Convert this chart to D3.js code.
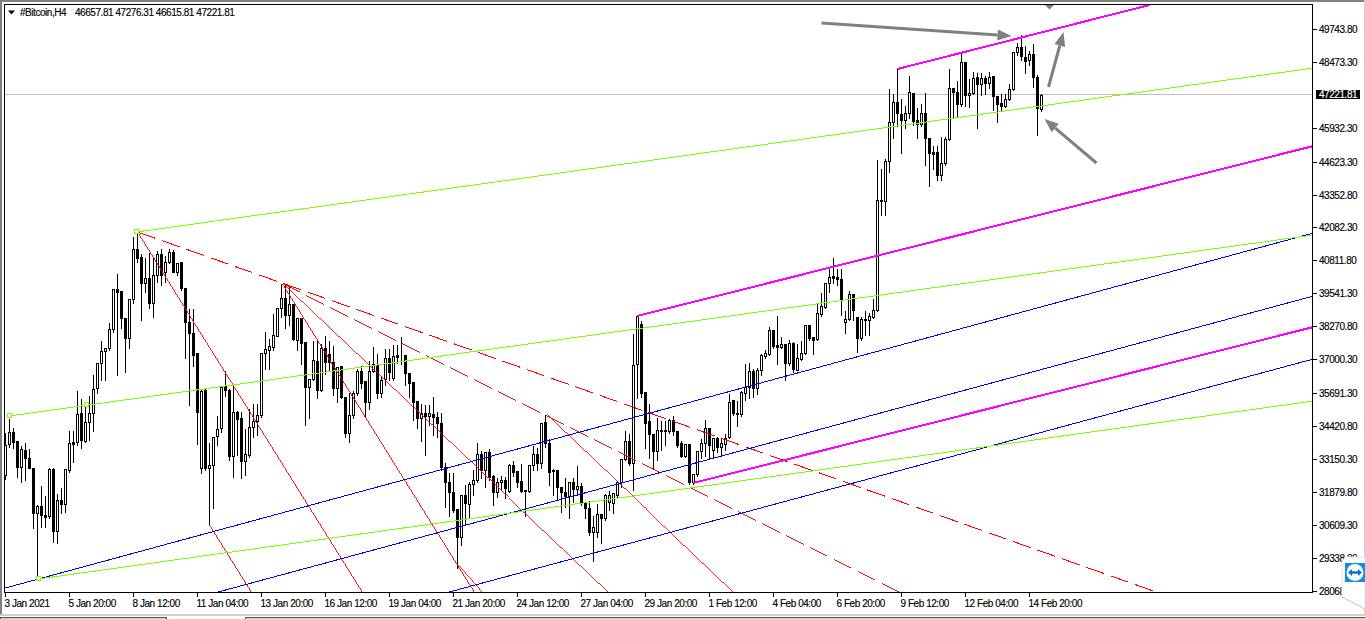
<!DOCTYPE html>
<html>
<head>
<meta charset="utf-8">
<script src="https://cdn.jsdelivr.net/npm/d3@7"></script>
<style>
  html, body { margin: 0; padding: 0; background: #fff; overflow: hidden; }
  text { font-family: "Liberation Sans", sans-serif; font-size: 10px; letter-spacing: -0.45px; fill: #000; stroke: #000; stroke-width: 0.15px; }
</style>
</head>
<body>
<svg id="chart" width="1365" height="619"></svg>
<script>
// H4 bars
const highs = [34207,34748,34400,33899,33706,33821,33590,32818,31428,32162,31776,32856,32856,31853,32084,32779,34285,34285,35829,35520,35288,35636,36446,36909,37759,37450,38453,39727,40345,39650,38646,39380,41773,41889,41117,40962,41155,40962,41233,41310,41040,41310,41271,40769,40769,39766,38994,38994,37257,35906,35906,33821,34053,34864,36022,36601,35906,36099,35057,35018,34362,35134,35327,35327,37295,38106,37836,38801,39032,39959,39959,39882,39187,38646,38646,37681,36253,37759,37759,37643,37952,37759,37566,36755,36755,35597,35751,35829,36678,36794,36215,36987,37527,37257,36408,37450,37450,37604,37604,37913,37180,36485,36137,35404,35327,35288,35288,35597,35018,34979,33049,32663,32663,31235,31776,32200,32316,32779,33821,33513,33435,33590,32586,32470,32548,32509,33011,33127,32702,33011,31969,32934,33706,33628,34593,34902,33976,32818,32741,32084,32470,32277,32470,32934,32277,31505,31583,31004,31467,31042,31853,31969,31853,32355,33165,34285,34169,38029,38685,38531,35790,35327,34130,34786,34671,34671,34748,34864,34246,33899,33783,33783,32586,33513,33976,34709,34400,33976,34053,33976,34169,35713,35443,35443,35829,36871,36909,36678,36716,37257,37411,38299,38183,38724,37913,37604,37797,37720,37643,37759,38338,38338,37874,39187,39611,39959,40538,40962,40538,40538,38917,39689,39573,38685,38685,38917,38839,39380,44745,44398,44784,47486,47293,48258,47100,46830,47988,47293,46752,46907,47331,45594,45286,45286,45633,45633,48258,47486,47795,48875,48489,47872,48142,48103,48103,47988,48142,47949,47216,47293,47293,47679,48914,49261,49570,49146,48953,49223,48026,47276.31];
const opens = [32548,33744,34207,33860,32856,33513,33204,32818,31081,31351,31004,30965,32779,30386,31583,31428,32741,33821,33821,34941,33860,34593,34941,35906,36871,37334,37450,38183,39727,39650,38608,37836,39341,41271,40962,39959,40152,39187,40268,41078,40383,40769,41155,40383,40769,39766,38453,38029,37257,32818,35829,32818,32934,34053,34362,35983,35829,33281,34979,34748,33088,33320,34400,34632,34864,37257,37373,37488,37913,38994,39380,38724,39148,37759,38608,37681,35944,36253,36948,35829,37450,37218,36909,35906,36755,35558,34169,34864,35713,36562,36176,35365,36562,36794,35713,36253,37064,36292,37180,37180,37180,36485,36137,35404,34748,34941,34825,34902,34786,34555,32856,32277,31891,31235,30154,31776,31428,32200,32355,33358,32741,33435,32509,31891,32277,32355,31930,32934,32702,32316,31969,31930,32934,33358,33011,34593,33783,32741,32741,32084,31891,31737,32277,32007,32123,31505,31274,30347,30347,31042,30888,31505,31467,31776,32277,33165,33860,33011,36832,38376,35751,34632,34130,33474,34246,34285,34246,34671,34246,33783,33281,33744,32277,32586,33474,33783,34362,33513,33976,33628,33744,34014,35443,34941,34902,35713,35944,36562,35906,36601,37141,37218,38145,37566,37488,37604,36871,37643,36601,37025,37257,38338,37874,37797,38762,39032,39959,40229,40190,40113,38453,38569,39534,38646,37836,38531,38531,38646,38917,43163,43124,44668,46173,46945,46482,46251,46521,47293,46251,46096,46521,45556,45015,45015,44128,44591,45517,47486,47331,46868,48489,47216,47293,47910,47640,47872,47679,47949,47177,46907,46791,47061,47447,48875,49068,48682,48567,48798,47910,46657.81];
const closes = [33706,34207,33821,32856,33551,33204,32818,31081,31351,31004,30926,32779,30386,31583,31428,32779,33783,33744,34902,33899,34593,34941,35867,36871,37334,37450,38183,39727,39611,38608,37836,39341,41271,40924,39959,40152,39187,40268,41078,40268,40769,41155,40383,40731,39766,38453,38029,37180,34979,35790,32818,32934,34014,34323,35944,35829,33281,34979,34709,33088,33358,34400,34632,34864,37257,37411,37527,37952,38994,39380,38724,39148,37797,38608,37643,35944,36253,36987,35829,37450,36909,36909,35906,36716,35558,34169,34864,35713,36562,36099,35365,36562,36832,35713,36215,37064,36523,37141,37102,37180,36485,36099,35365,34748,34941,34825,34941,34786,34555,32856,32277,31891,31197,30154,31776,31467,32200,32355,33358,32741,33435,32470,31891,32277,32355,32046,32934,32663,32277,31930,31930,32934,33358,33011,34555,33783,32663,32702,32084,31891,31737,32277,32007,32123,31505,31274,30347,30540,31042,30888,31776,31776,31853,32277,33165,33860,33011,36794,38685,35713,34555,34130,33474,34285,34285,34246,34671,34246,33706,33281,33744,32277,32586,33474,33783,34362,33706,33976,33628,33783,33976,35365,34941,34902,35751,35944,36562,35906,36601,37180,37257,38145,37527,37488,37604,36871,37643,36639,37064,37257,38338,37836,37759,38801,39071,39959,40190,40152,40113,39303,38569,39534,38917,37836,38569,38569,38685,38917,43163,43124,44668,46173,46945,46521,46251,46521,47331,46212,46096,46521,45556,44977,44938,44128,44591,45517,47486,47331,46868,48489,47216,47293,47872,47640,47872,47679,47910,47177,46868,46791,47061,47447,48875,49068,48721,48528,48798,47910,46714,47221.81];
const lows = [32393,33628,33590,32470,32277,32355,32818,30502,28572,30540,30540,30888,29961,29923,31081,31119,32663,33049,33706,33590,33821,33899,34246,35713,36215,36215,37373,38067,36408,38222,36523,37450,39187,40769,38531,39611,38994,38646,39997,39882,39997,40731,40383,40268,39689,37064,35250,36755,33744,32625,32741,30618,31274,33706,34207,35597,33127,32470,33320,32432,32548,33242,34014,34092,34786,36639,36639,37373,37913,38646,38222,38338,37759,37373,36832,34478,34748,36215,35520,35790,36446,36601,35636,35365,35520,34014,33821,34748,35636,35906,34786,35095,36523,35520,35558,36022,36215,36215,36871,36832,36022,35558,34671,34362,33860,33320,34478,34092,34014,32741,31312,30965,31119,28958,29846,30618,30926,31776,32277,32432,32084,32355,31390,31698,31969,31660,31891,32509,32084,31891,30965,31891,32741,32741,32818,33628,32162,31776,31583,31119,31312,30888,31505,31776,31390,30888,30232,29228,30154,29923,30811,31197,31081,31698,32084,33127,32934,31969,35520,35558,33590,33204,32818,33127,33513,33706,34169,34092,33628,33242,33242,32200,32200,32509,33204,33281,33204,33204,33435,33281,33513,33976,34864,34439,34825,35443,35520,35558,35674,36408,37064,37180,37450,36832,37450,36215,36794,36523,36601,36987,37218,37759,37218,37759,38685,38994,39611,39959,39882,38724,38029,38531,38531,37295,37759,37952,37952,38608,38878,42584,42584,44243,45556,46019,44977,45942,46328,46058,45556,46019,44514,43703,44359,43935,43935,44514,45479,46366,46366,46791,46791,46752,47254,45942,47216,47254,47486,46637,46173,46598,46752,47023,47409,48760,48567,48065,48374,47524,45672,46615.81];

// Axis labels
const priceTicks = [49743.80,48473.30,45932.30,44623.30,43352.80,42082.30,40811.80,39541.30,38270.80,37000.30,35691.30,34420.80,33150.30,31879.80,30609.30,29338.80,28068.30];
const timeLabels = ["3 Jan 2021","5 Jan 20:00","8 Jan 12:00","11 Jan 04:00","13 Jan 20:00","16 Jan 12:00","19 Jan 04:00","21 Jan 20:00","24 Jan 12:00","27 Jan 04:00","29 Jan 20:00","1 Feb 12:00","4 Feb 04:00","6 Feb 20:00","9 Feb 12:00","12 Feb 04:00","14 Feb 20:00"];
const lastPrice = 47221.81;

// Trendlines as [bar, price, bar, price]
const greenLines = [[32.75,41927,327,48258],[1,34825,327,41812],[8.25,28533,327,35404]];
const greenAnchors = [[1,34825],[20.5,35238],[32.75,41927],[8.25,28533]];
const blueLines = [[0,28186,327,41889],[52.75,28012,327,39457],[110.5,28012,327,37025]];
const magentaLines = [[223,48219,286,50690],[158,38685,327,45247],[172,32239,327,38260]];
const redLines = [[33,41927,89.25,28012],[51,30618,61.5,28012],[69.25,39920,117.25,28012],[69.25,39920,150.75,28012],[135.25,34864,182,28012],[113.25,29074,119.25,28012]];
const redDashed = [[33,41927,288,28012],[69.25,39920,223.5,28012]];
const arrows = [[204,49995,251.5,49493],[260.75,47524,264.5,49647],[272.75,44591,259.75,46289],[261,51268,261,50516]];

const svg = d3.select("#chart");

// Scales: one bar is 4 px wide
const x = d3.scaleLinear().domain([0, 259]).range([5.5, 1041.5]);
const y = d3.scaleLinear().domain([28068.3, 49743.8]).range([591, 29.5]);
const py = v => Math.round(y(v)) + 0.5;
const tickY = v => Math.floor(y(v)) + 0.5;

// Window edges and tabs
svg.append("rect").attr("width", 1365).attr("height", 2).attr("fill", "#808080");
svg.append("rect").attr("width", 2).attr("height", 615).attr("fill", "#808080");
svg.append("rect").attr("x", 1364).attr("width", 1).attr("height", 615).attr("fill", "#d4d0c8");
svg.append("rect").attr("y", 614).attr("width", 1365).attr("height", 2).attr("fill", "#d4d0c8");
svg.selectAll(".tab")
    .data([[0, 166], [245, 1120]])
    .enter()
    .append("rect")
    .attr("class", "tab")
    .attr("x", d => d[0])
    .attr("y", 617)
    .attr("width", d => d[1])
    .attr("height", 2)
    .attr("fill", "#d4d0c8")
    .attr("stroke", "#555")
    .attr("stroke-width", 1)
    .attr("shape-rendering", "crispEdges");

// Clip for everything drawn on the chart
svg.append("clipPath")
    .attr("id", "plot")
    .append("rect")
    .attr("x", 5)
    .attr("y", 5)
    .attr("width", 1308)
    .attr("height", 587);

const plot = svg.append("g").attr("clip-path", "url(#plot)");

// Last price line
plot.append("line")
    .attr("x1", 5)
    .attr("x2", 1313)
    .attr("y1", tickY(lastPrice))
    .attr("y2", tickY(lastPrice))
    .attr("stroke", "#c0c0c0")
    .attr("shape-rendering", "crispEdges");

// Candles
const bars = plot.selectAll(".bar")
    .data(d3.range(highs.length))
    .enter()
    .append("g")
    .attr("class", "bar")
    .attr("shape-rendering", "crispEdges");

bars.append("line")
    .attr("x1", i => x(i))
    .attr("x2", i => x(i))
    .attr("y1", i => py(highs[i]))
    .attr("y2", i => py(lows[i]) + 0.5)
    .attr("stroke", "#000");

bars.append("rect")
    .attr("x", i => x(i) - 1)
    .attr("width", 2)
    .attr("y", i => py(Math.max(opens[i], closes[i])))
    .attr("height", i => Math.max(0, py(Math.min(opens[i], closes[i])) - py(Math.max(opens[i], closes[i]))))
    .attr("fill", i => closes[i] >= opens[i] ? "#fff" : "#000")
    .attr("stroke", "#000");

// Draws one group of trendlines, width scaled so a sloped line stays about one pixel thin
function drawLines(rows, color, width, dash) {
    plot.append("g")
        .selectAll("line")
        .data(rows)
        .enter()
        .append("line")
        .attr("x1", d => x(d[0]))
        .attr("y1", d => y(d[1]))
        .attr("x2", d => x(d[2]))
        .attr("y2", d => y(d[3]))
        .attr("stroke", color)
        .attr("stroke-width", d => {
            const dx = Math.abs(x(d[2]) - x(d[0])), dy = Math.abs(y(d[3]) - y(d[1]));
            return width * Math.max(0.85, Math.min(1, 1.08 * Math.max(dx, dy) / Math.hypot(dx, dy)));
        })
        .attr("stroke-dasharray", dash)
        .attr("shape-rendering", "crispEdges");
}

drawLines(redLines, "#ff0000", 1, null);
drawLines([redDashed[0]], "#ff0000", 1, "18.7 7.1");
drawLines([redDashed[1]], "#ff0000", 1, "19.7 7.1");
drawLines(blueLines, "#0000ff", 1, null);
drawLines(greenLines, "#7fff00", 1, null);
drawLines(magentaLines, "#ff00ff", 2, null);

// Small square handles on the green lines
plot.selectAll(".anchor")
    .data(greenAnchors)
    .enter()
    .append("rect")
    .attr("class", "anchor")
    .attr("x", d => Math.round(x(d[0])) - 2.5)
    .attr("y", d => Math.round(y(d[1])) - 2.5)
    .attr("width", 4)
    .attr("height", 4)
    .attr("fill", "#fff")
    .attr("stroke", "#7fff00")
    .attr("shape-rendering", "crispEdges");

// Grey arrows, the last one is mostly cut off by the top of the frame
arrows.forEach((d, i) => {
    const x1 = x(d[0]), y1 = y(d[1]), x2 = x(d[2]), y2 = y(d[3]);
    const len = Math.hypot(x2 - x1, y2 - y1);
    const ux = (x2 - x1) / len, uy = (y2 - y1) / len;
    const headLen = i === 3 ? 5 : 14, headHalf = i === 3 ? 5 : 5.5;
    const bx = x2 - ux * headLen, by = y2 - uy * headLen;
    plot.append("line")
        .attr("x1", x1).attr("y1", y1)
        .attr("x2", bx).attr("y2", by)
        .attr("stroke", "#808080")
        .attr("stroke-width", 3);
    plot.append("polygon")
        .attr("points", [[x2, y2], [bx - uy * headHalf, by + ux * headHalf], [bx + uy * headHalf, by - ux * headHalf]].join(" "))
        .attr("fill", "#808080");
});

// Frame
svg.append("rect")
    .attr("x", 4.5)
    .attr("y", 4.5)
    .attr("width", 1308)
    .attr("height", 588)
    .attr("fill", "none")
    .attr("stroke", "#000")
    .attr("shape-rendering", "crispEdges");

// Price axis
const priceAxis = svg.append("g").selectAll("g")
    .data(priceTicks)
    .enter()
    .append("g")
    .attr("transform", d => `translate(1313,${tickY(d)})`);

priceAxis.append("line")
    .attr("x2", 4)
    .attr("stroke", "#000")
    .attr("shape-rendering", "crispEdges");

priceAxis.append("text")
    .attr("x", 6)
    .attr("y", 3.5)
    .text(d => d.toFixed(2));

// Time axis
const timeAxis = svg.append("g").selectAll("g")
    .data(timeLabels)
    .enter()
    .append("g")
    .attr("transform", (d, i) => `translate(${x(i * 16)},593)`);

timeAxis.append("line")
    .attr("y2", 4)
    .attr("stroke", "#000")
    .attr("shape-rendering", "crispEdges");

timeAxis.append("text")
    .attr("x", -1)
    .attr("y", 13.5)
    .text(d => d);

// Last price box
svg.append("rect")
    .attr("x", 1316)
    .attr("y", tickY(lastPrice) - 4.5)
    .attr("width", 44)
    .attr("height", 9)
    .attr("fill", "#000");

svg.append("text")
    .attr("x", 1319)
    .attr("y", tickY(lastPrice) + 3.5)
    .style("fill", "#fff")
    .style("stroke", "#fff")
    .text(lastPrice.toFixed(2));

// Header
svg.append("path")
    .attr("d", "M8,10.5 L15,10.5 L11.5,14.5 Z")
    .attr("fill", "#000");

svg.append("text")
    .attr("x", 20)
    .attr("y", 16)
    .text("#Bitcoin,H4");

svg.append("text")
    .attr("x", 75)
    .attr("y", 16)
    .text([opens[259], highs[259], lows[259], closes[259]].map(d => d.toFixed(2)).join(" "));

// TeamViewer badge in the corner
svg.append("path")
    .attr("d", "M1346,557 L1365,557 L1365,609 L1342,597 L1342,561 Z")
    .attr("fill", "#fff")
    .attr("stroke", "#dde3ea");

svg.append("path")
    .attr("d", "M1342,597 L1365,609")
    .attr("fill", "none")
    .attr("stroke", "#8a8a8a")
    .attr("stroke-dasharray", "1 2");

svg.append("rect")
    .attr("x", 1345)
    .attr("y", 563)
    .attr("width", 20)
    .attr("height", 19)
    .attr("fill", "#0e8ee9");

svg.append("circle")
    .attr("cx", 1355)
    .attr("cy", 572.5)
    .attr("r", 8.5)
    .attr("fill", "#fff");

svg.append("path")
    .attr("d", "M1348,572.5 L1352,569 L1352,571.3 L1358,571.3 L1358,569 L1362,572.5 L1358,576 L1358,573.7 L1352,573.7 L1352,576 Z")
    .attr("fill", "#0e6fd0");
</script>
</body>
</html>
